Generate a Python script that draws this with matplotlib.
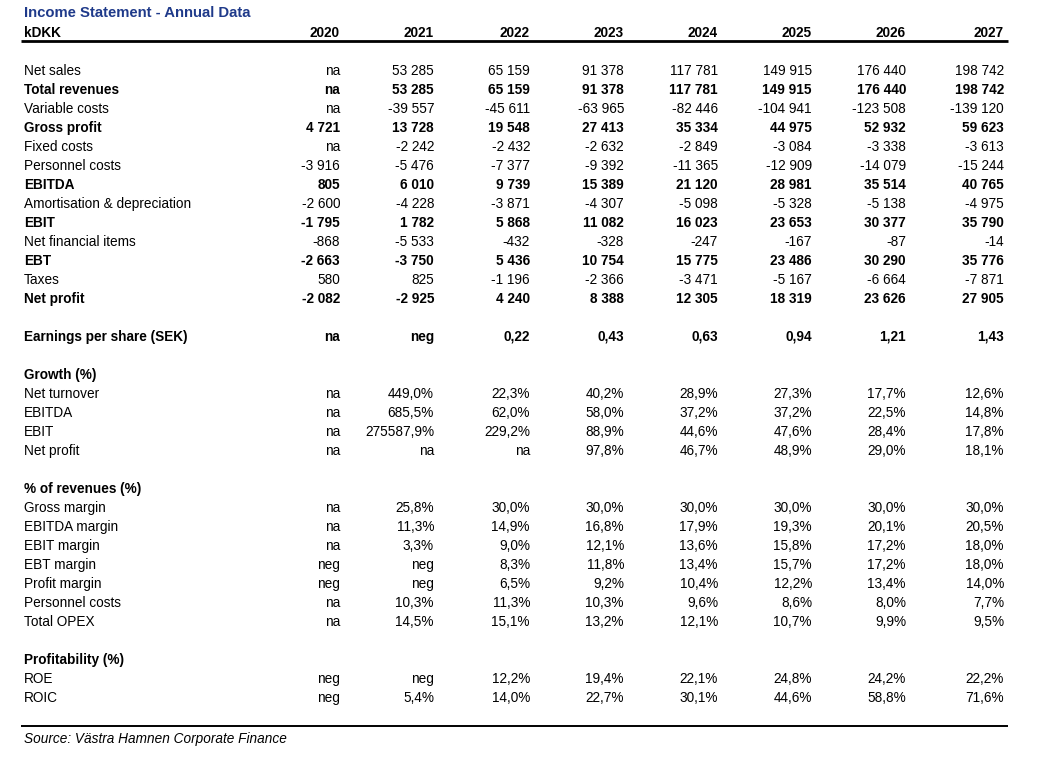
import matplotlib.pyplot as plt

years = ["2020", "2021", "2022", "2023", "2024", "2025", "2026", "2027"]

# (label, values, bold)
income_rows = [
    ("Net sales", ["na", "53 285", "65 159", "91 378", "117 781", "149 915", "176 440", "198 742"], False),
    ("Total revenues", ["na", "53 285", "65 159", "91 378", "117 781", "149 915", "176 440", "198 742"], True),
    ("Variable costs", ["na", "-39 557", "-45 611", "-63 965", "-82 446", "-104 941", "-123 508", "-139 120"], False),
    ("Gross profit", ["4 721", "13 728", "19 548", "27 413", "35 334", "44 975", "52 932", "59 623"], True),
    ("Fixed costs", ["na", "-2 242", "-2 432", "-2 632", "-2 849", "-3 084", "-3 338", "-3 613"], False),
    ("Personnel costs", ["-3 916", "-5 476", "-7 377", "-9 392", "-11 365", "-12 909", "-14 079", "-15 244"], False),
    ("EBITDA", ["805", "6 010", "9 739", "15 389", "21 120", "28 981", "35 514", "40 765"], True),
    ("Amortisation & depreciation", ["-2 600", "-4 228", "-3 871", "-4 307", "-5 098", "-5 328", "-5 138", "-4 975"], False),
    ("EBIT", ["-1 795", "1 782", "5 868", "11 082", "16 023", "23 653", "30 377", "35 790"], True),
    ("Net financial items", ["-868", "-5 533", "-432", "-328", "-247", "-167", "-87", "-14"], False),
    ("EBT", ["-2 663", "-3 750", "5 436", "10 754", "15 775", "23 486", "30 290", "35 776"], True),
    ("Taxes", ["580", "825", "-1 196", "-2 366", "-3 471", "-5 167", "-6 664", "-7 871"], False),
    ("Net profit", ["-2 082", "-2 925", "4 240", "8 388", "12 305", "18 319", "23 626", "27 905"], True),
]

eps_row = ("Earnings per share (SEK)", ["na", "neg", "0,22", "0,43", "0,63", "0,94", "1,21", "1,43"], True)

growth_rows = [
    ("Net turnover", ["na", "449,0%", "22,3%", "40,2%", "28,9%", "27,3%", "17,7%", "12,6%"], False),
    ("EBITDA", ["na", "685,5%", "62,0%", "58,0%", "37,2%", "37,2%", "22,5%", "14,8%"], False),
    ("EBIT", ["na", "275587,9%", "229,2%", "88,9%", "44,6%", "47,6%", "28,4%", "17,8%"], False),
    ("Net profit", ["na", "na", "na", "97,8%", "46,7%", "48,9%", "29,0%", "18,1%"], False),
]

margin_rows = [
    ("Gross margin", ["na", "25,8%", "30,0%", "30,0%", "30,0%", "30,0%", "30,0%", "30,0%"], False),
    ("EBITDA margin", ["na", "11,3%", "14,9%", "16,8%", "17,9%", "19,3%", "20,1%", "20,5%"], False),
    ("EBIT margin", ["na", "3,3%", "9,0%", "12,1%", "13,6%", "15,8%", "17,2%", "18,0%"], False),
    ("EBT margin", ["neg", "neg", "8,3%", "11,8%", "13,4%", "15,7%", "17,2%", "18,0%"], False),
    ("Profit margin", ["neg", "neg", "6,5%", "9,2%", "10,4%", "12,2%", "13,4%", "14,0%"], False),
    ("Personnel costs", ["na", "10,3%", "11,3%", "10,3%", "9,6%", "8,6%", "8,0%", "7,7%"], False),
    ("Total OPEX", ["na", "14,5%", "15,1%", "13,2%", "12,1%", "10,7%", "9,9%", "9,5%"], False),
]

profit_rows = [
    ("ROE", ["neg", "neg", "12,2%", "19,4%", "22,1%", "24,8%", "24,2%", "22,2%"], False),
    ("ROIC", ["neg", "5,4%", "14,0%", "22,7%", "30,1%", "44,6%", "58,8%", "71,6%"], False),
]

sections = [
    (None, income_rows),
    (None, [eps_row]),
    ("Growth (%)", growth_rows),
    ("% of revenues (%)", margin_rows),
    ("Profitability (%)", profit_rows),
]


def main():
    plt.rcParams['font.family'] = ['Liberation Sans', 'DejaVu Sans']
    fig = plt.figure(figsize=(10.47, 7.6), dpi=100)
    ax = fig.add_axes([0, 0, 1, 1])
    ax.set_xlim(0, 1047)
    ax.set_ylim(760, 0)
    ax.axis('off')

    col_x = [340, 434, 530, 624, 718, 812, 906, 1004]
    label_x = 24
    fs = 9.8
    off = 4.9  # baseline below row centre

    ax.text(label_x, 12 + 5.4, "Income Statement - Annual Data", fontsize=10.75,
            fontweight='bold', color='#1f3a8a', va='baseline', ha='left')
    ax.text(label_x, 32 + off, "kDKK", fontsize=fs, fontweight='bold', va='baseline')
    for x, y in zip(col_x, years):
        ax.text(x, 32 + off, y, fontsize=fs, fontweight='bold', va='baseline', ha='right')
    ax.plot([21, 1008], [41, 41], color='black', lw=2.0, solid_capstyle='butt')

    row = 0
    for i, (header, rows) in enumerate(sections):
        if i > 0:
            row += 1
        if header:
            ax.text(label_x, 70 + row * 19 + off, header, fontsize=fs,
                    fontweight='bold', va='baseline')
            row += 1
        for label, vals, bold in rows:
            y = 70 + row * 19 + off
            w = 'bold' if bold else 'normal'
            ax.text(label_x, y, label, fontsize=fs, fontweight=w, va='baseline')
            for x, v in zip(col_x, vals):
                ax.text(x, y, v, fontsize=fs, fontweight=w, va='baseline', ha='right')
            row += 1

    ax.plot([21, 1008], [726, 726], color='black', lw=1.4, solid_capstyle='butt')
    ax.text(label_x, 738 + off, "Source: Västra Hamnen Corporate Finance", fontsize=fs,
            style='italic', va='baseline')

    fig.savefig("out.png", dpi=100)


if __name__ == "__main__":
    main()
